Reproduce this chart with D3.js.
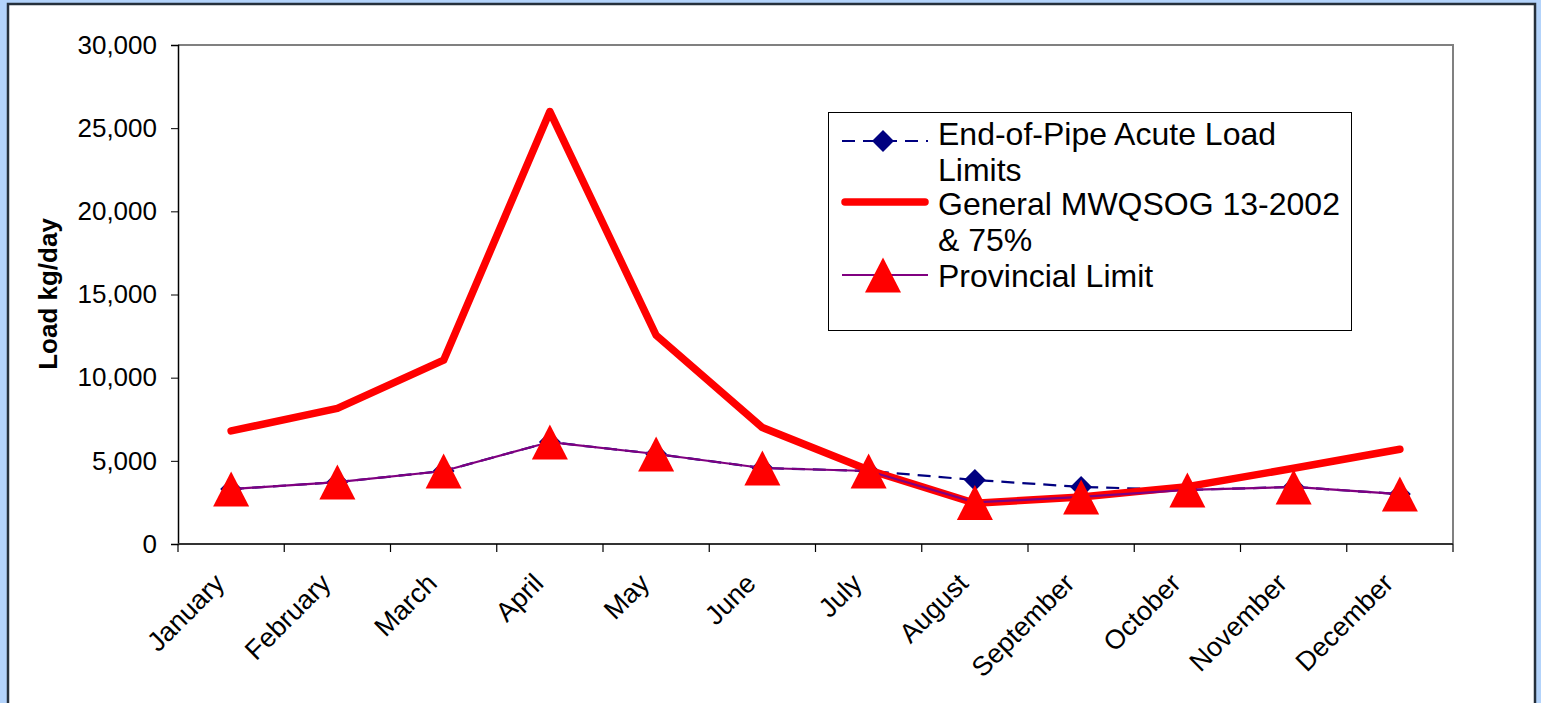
<!DOCTYPE html>
<html>
<head>
<meta charset="utf-8">
<script src="https://cdn.jsdelivr.net/npm/d3@7"></script>
<style>
  html, body { margin: 0; padding: 0; background: #b3d3fb; overflow: hidden; }
  svg { display: block; font-family: Arial, "Liberation Sans", sans-serif; }
</style>
</head>
<body>
<svg id="chart" width="1541" height="703"></svg>
<script>
// Monthly load limits, kg/day
const months = ["January", "February", "March", "April", "May", "June",
  "July", "August", "September", "October", "November", "December"];
const endOfPipe = [3300, 3720, 4390, 6130, 5410, 4570, 4390, 3850, 3430, 3250, 3430, 3000];
const generalMwqsog = [6800, 8150, 11050, 26000, 12550, 7000, 4450, 2450, 2820, 3450, 4550, 5700];
const provincial = [3300, 3720, 4390, 6130, 5410, 4570, 4390, 2500, 2830, 3250, 3430, 3000];
const yTicks = [0, 5000, 10000, 15000, 20000, 25000, 30000];
const legendLabels = [
  ["End-of-Pipe Acute Load", "Limits"],
  ["General MWQSOG 13-2002", "& 75%"],
  ["Provincial Limit"]
];

const svg = d3.select("#chart");

// white chart frame
svg.append("rect")
  .attr("x", 8).attr("y", 4).attr("width", 1527).attr("height", 720)
  .attr("fill", "#fff").attr("stroke", "#26303c").attr("stroke-width", 2.5);

const plot = { left: 178, top: 45, right: 1453, bottom: 544 };

const x = d3.scaleBand().domain(months).range([plot.left, plot.right]);
const y = d3.scaleLinear().domain([0, 30000]).range([plot.bottom, plot.top]);
const cx = m => x(m) + x.bandwidth() / 2;

// plot area border (top/right in grey)
svg.append("path")
  .attr("d", `M${plot.left},${plot.top}H${plot.right}V${plot.bottom}`)
  .attr("fill", "none").attr("stroke", "#808080").attr("stroke-width", 2);

// y axis
const yAxis = svg.append("g")
  .attr("transform", `translate(${plot.left},0)`)
  .call(d3.axisLeft(y).tickValues(yTicks).tickSize(7).tickPadding(14)
    .tickFormat(d3.format(",")));
yAxis.select(".domain").attr("stroke", "#000").attr("stroke-width", 1.5);
yAxis.selectAll(".tick line").attr("stroke", "#000");
yAxis.selectAll("text").attr("font-size", 26).attr("fill", "#000")
  .attr("font-family", "Arial, 'Liberation Sans', sans-serif");

// x axis: ticks at category boundaries
const xAxisG = svg.append("g").attr("transform", `translate(0,${plot.bottom})`);
xAxisG.append("line")
  .attr("x1", plot.left).attr("x2", plot.right)
  .attr("stroke", "#333").attr("stroke-width", 2);
const bounds = months.map(m => x(m)).concat([plot.right]);
xAxisG.selectAll("line.tk").data(bounds).join("line").attr("class", "tk")
  .attr("x1", d => d).attr("x2", d => d).attr("y1", 0).attr("y2", 8)
  .attr("stroke", "#000").attr("stroke-width", 1.2);
xAxisG.selectAll("text").data(months).join("text")
  .attr("transform", d => `translate(${cx(d) - 5},${41}) rotate(-45)`)
  .attr("text-anchor", "end")
  .attr("font-size", 27)
  .attr("fill", "#000")
  .text(d => d);

// y axis title
svg.append("text")
  .attr("transform", "translate(57,294) rotate(-90)")
  .attr("text-anchor", "middle")
  .attr("font-size", 26).attr("font-weight", "bold")
  .text("Load kg/day");

const line = d3.line().x((d, i) => cx(months[i])).y(d => y(d));
// triangle marker centred on its bounding box
const triPath = "M0,-17.5L18,17.5L-18,17.5Z";
const diamond = d3.symbol().type(d3.symbolSquare).size(240);

// End-of-Pipe series
svg.append("path").datum(endOfPipe)
  .attr("d", line).attr("fill", "none")
  .attr("stroke", "#000080").attr("stroke-width", 2.2)
  .attr("stroke-dasharray", "13,8");
svg.selectAll("path.eop").data(endOfPipe).join("path").attr("class", "eop")
  .attr("d", diamond)
  .attr("transform", (d, i) => `translate(${cx(months[i])},${y(d)}) rotate(45)`)
  .attr("fill", "#000080");

// General MWQSOG series
svg.append("path").datum(generalMwqsog)
  .attr("d", line).attr("fill", "none")
  .attr("stroke", "#ff0000").attr("stroke-width", 7.5)
  .attr("stroke-linecap", "round").attr("stroke-linejoin", "round");

// Provincial series
svg.append("path").datum(provincial)
  .attr("d", line).attr("fill", "none")
  .attr("stroke", "#800080").attr("stroke-width", 2.2);
svg.selectAll("path.prov").data(provincial).join("path").attr("class", "prov")
  .attr("d", triPath)
  .attr("transform", (d, i) => `translate(${cx(months[i])},${y(d)})`)
  .attr("fill", "#ff0000");

// legend
const lg = svg.append("g");
lg.append("rect")
  .attr("x", 828.5).attr("y", 112.5).attr("width", 523).attr("height", 218)
  .attr("fill", "#fff").attr("stroke", "#000").attr("stroke-width", 1);
const rowY = [141, 202, 275];
const lineTop = [145, 215, 287];
const sx1 = 842, sx2 = 928, smid = 883;

lg.append("line").attr("x1", sx1).attr("x2", sx2).attr("y1", rowY[0]).attr("y2", rowY[0])
  .attr("stroke", "#000080").attr("stroke-width", 2.2).attr("stroke-dasharray", "13,8");
lg.append("path").attr("d", diamond).attr("transform", `translate(${smid},${rowY[0]}) rotate(45)`)
  .attr("fill", "#000080");
lg.append("line").attr("x1", sx1 + 3).attr("x2", sx2 - 3).attr("y1", rowY[1]).attr("y2", rowY[1])
  .attr("stroke", "#ff0000").attr("stroke-width", 7.5).attr("stroke-linecap", "round");
lg.append("line").attr("x1", sx1).attr("x2", sx2).attr("y1", rowY[2]).attr("y2", rowY[2])
  .attr("stroke", "#800080").attr("stroke-width", 2.2);
lg.append("path").attr("d", triPath).attr("transform", `translate(${smid},${rowY[2]})`)
  .attr("fill", "#ff0000");

legendLabels.forEach((lines, i) => {
  const t = lg.append("text").attr("x", 938).attr("y", lineTop[i])
    .attr("font-size", 32).attr("fill", "#000");
  lines.forEach((s, j) => {
    t.append("tspan").attr("x", 938).attr("dy", j === 0 ? 0 : 36).text(s);
  });
});
</script>
</body>
</html>
